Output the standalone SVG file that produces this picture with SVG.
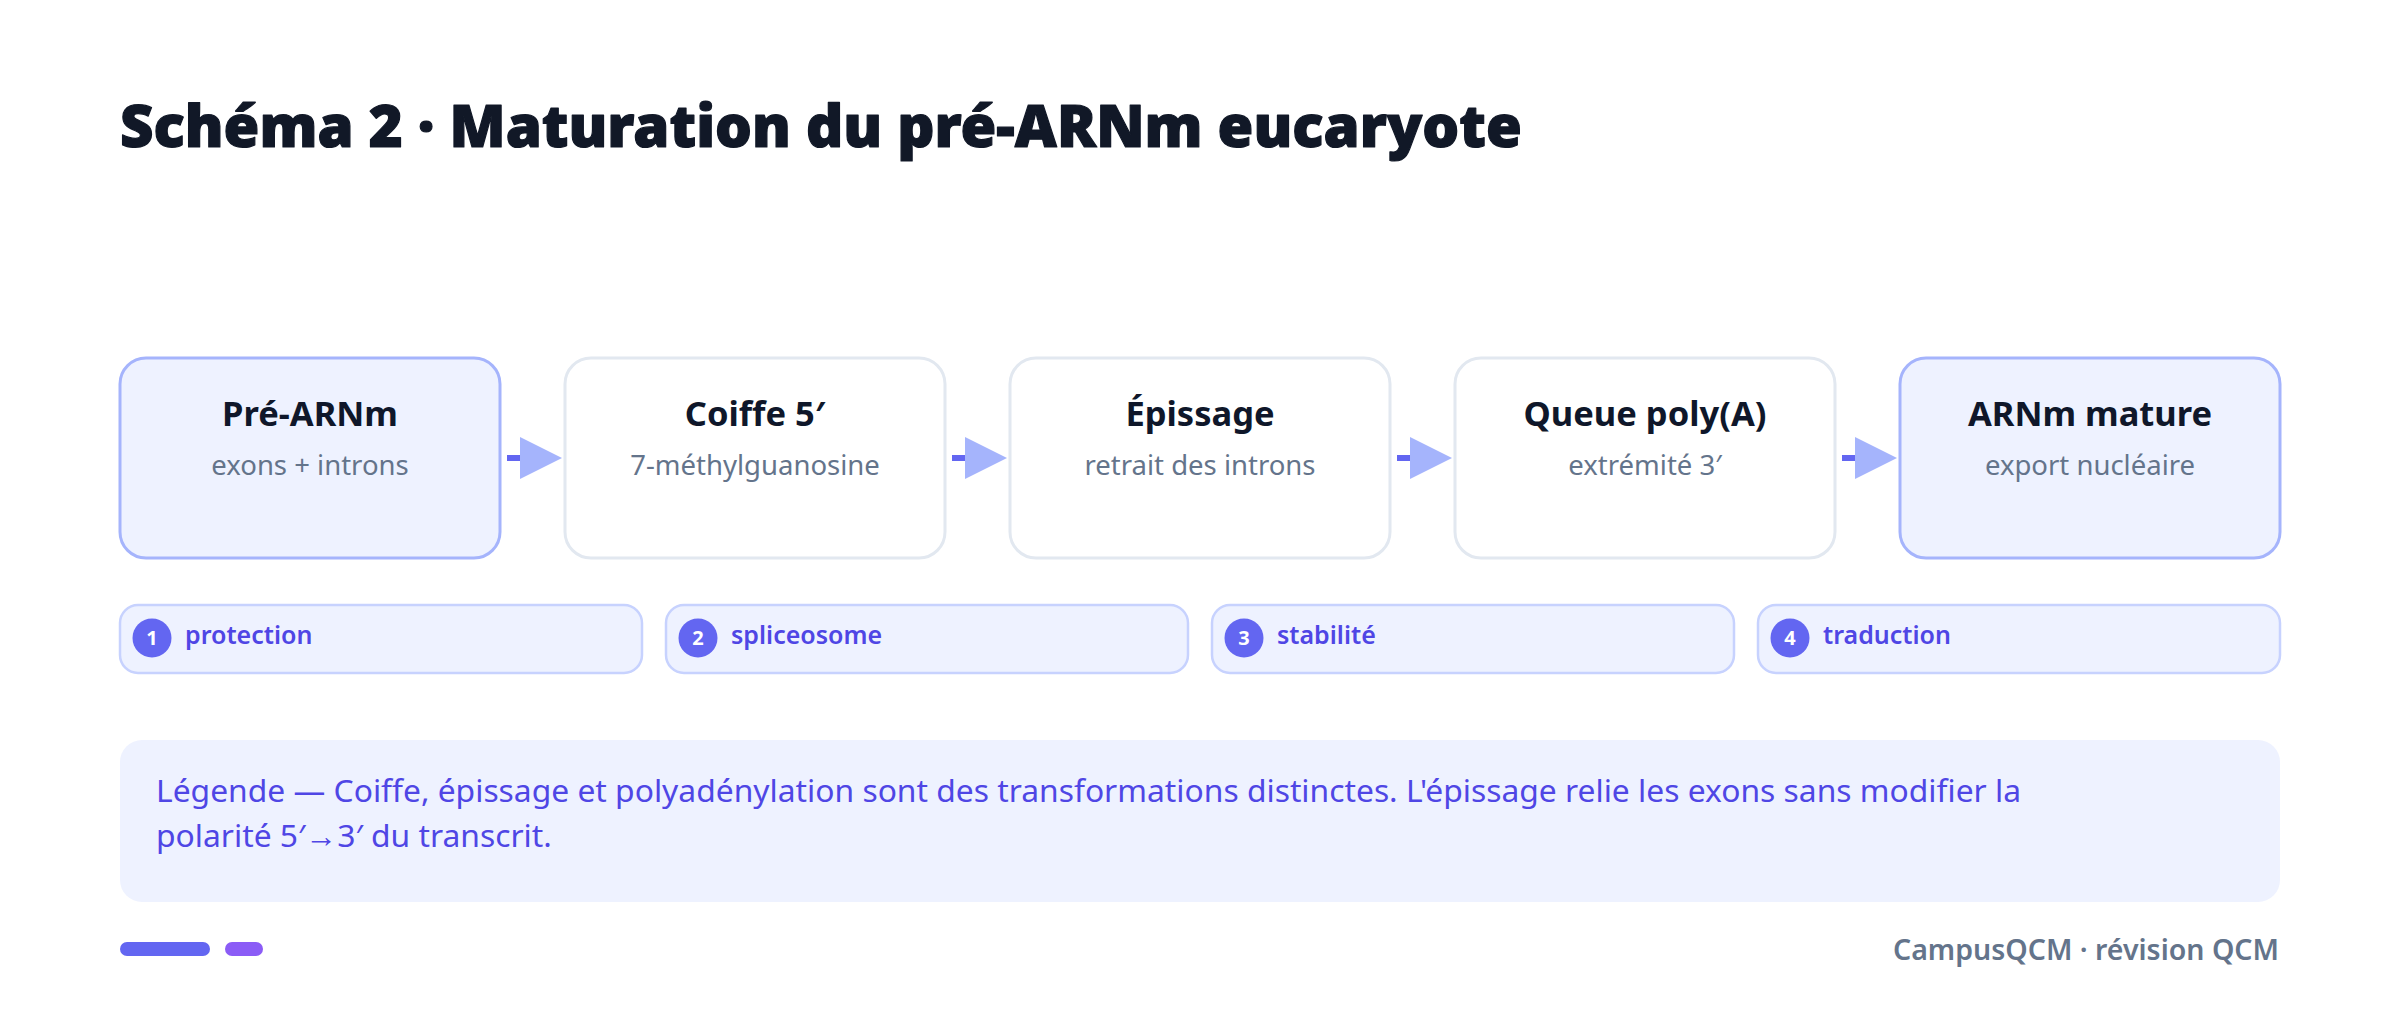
<svg xmlns="http://www.w3.org/2000/svg" width="2400" height="1010" viewBox="0 0 2400 1010">
<defs>
<style>
.title{font-family:"Noto Sans","Open Sans",sans-serif;font-weight:900;font-size:58px;fill:#111827;stroke:#111827;stroke-width:1.2px;stroke-linejoin:round}
.nt{font-family:"Noto Sans","Open Sans",sans-serif;font-weight:700;font-size:34.5px;fill:#0f172a;text-anchor:middle}
.ns{font-family:"Noto Sans","Open Sans",sans-serif;font-weight:400;font-size:27.5px;fill:#64748b;text-anchor:middle}
.hl{fill:#eef2ff;stroke:#a5b4fc;stroke-width:3}
.pl{fill:#ffffff;stroke:#e2e8f0;stroke-width:3}
.pill{fill:#eef2ff;stroke:#c7d2fe;stroke-width:2.5}
.dot{fill:#6366f1}
.num{font-family:"Noto Sans","Open Sans",sans-serif;font-weight:700;font-size:20px;fill:#ffffff;text-anchor:middle}
.pt{font-family:"Noto Sans","Open Sans",sans-serif;font-weight:600;font-size:25px;fill:#4f46e5}
.lg{font-family:"Noto Sans","Open Sans",sans-serif;font-weight:400;font-size:31.8px;fill:#4f46e5}
.ft{font-family:"Noto Sans","Open Sans",sans-serif;font-weight:600;font-size:28.5px;fill:#64748b;text-anchor:end}
.cl{stroke:#6366f1;stroke-width:6;fill:none}
</style>
<marker id="ah" markerUnits="userSpaceOnUse" markerWidth="44" markerHeight="44" refX="0" refY="21" orient="auto">
<polygon points="0,0 42,21 0,42" fill="#a5b4fc"/>
</marker>
</defs>
<rect width="2400" height="1010" fill="#ffffff"/>
<text class="title" x="120" y="147">Schéma 2 · Maturation du pré-ARNm eucaryote</text>

<g id="connectors">
<line class="cl" x1="507" y1="458" x2="520" y2="458" marker-end="url(#ah)"/>
<line class="cl" x1="952" y1="458" x2="965" y2="458" marker-end="url(#ah)"/>
<line class="cl" x1="1397" y1="458" x2="1410" y2="458" marker-end="url(#ah)"/>
<line class="cl" x1="1842" y1="458" x2="1855" y2="458" marker-end="url(#ah)"/>
</g>

<g id="node1">
<rect class="hl" x="120" y="358" width="380" height="200" rx="26"/>
<text class="nt" x="310" y="426">Pré-ARNm</text>
<text class="ns" x="310" y="475">exons + introns</text>
</g>
<g id="node2">
<rect class="pl" x="565" y="358" width="380" height="200" rx="26"/>
<text class="nt" x="755" y="426">Coiffe 5′</text>
<text class="ns" x="755" y="475">7-méthylguanosine</text>
</g>
<g id="node3">
<rect class="pl" x="1010" y="358" width="380" height="200" rx="26"/>
<text class="nt" x="1200" y="426">Épissage</text>
<text class="ns" x="1200" y="475">retrait des introns</text>
</g>
<g id="node4">
<rect class="pl" x="1455" y="358" width="380" height="200" rx="26"/>
<text class="nt" x="1645" y="426">Queue poly(A)</text>
<text class="ns" x="1645" y="475">extrémité 3′</text>
</g>
<g id="node5">
<rect class="hl" x="1900" y="358" width="380" height="200" rx="26"/>
<text class="nt" x="2090" y="426">ARNm mature</text>
<text class="ns" x="2090" y="475">export nucléaire</text>
</g>

<g id="pill1">
<rect class="pill" x="120" y="605" width="522" height="68" rx="18"/>
<circle class="dot" cx="152" cy="638" r="19.5"/>
<text class="num" x="152" y="645">1</text>
<text class="pt" x="185" y="644">protection</text>
</g>
<g id="pill2">
<rect class="pill" x="666" y="605" width="522" height="68" rx="18"/>
<circle class="dot" cx="698" cy="638" r="19.5"/>
<text class="num" x="698" y="645">2</text>
<text class="pt" x="731" y="644">spliceosome</text>
</g>
<g id="pill3">
<rect class="pill" x="1212" y="605" width="522" height="68" rx="18"/>
<circle class="dot" cx="1244" cy="638" r="19.5"/>
<text class="num" x="1244" y="645">3</text>
<text class="pt" x="1277" y="644">stabilité</text>
</g>
<g id="pill4">
<rect class="pill" x="1758" y="605" width="522" height="68" rx="18"/>
<circle class="dot" cx="1790" cy="638" r="19.5"/>
<text class="num" x="1790" y="645">4</text>
<text class="pt" x="1823" y="644">traduction</text>
</g>

<g id="legend">
<rect x="120" y="740" width="2160" height="162" rx="22" fill="#eef2ff"/>
<text class="lg" x="156" y="802">Légende — Coiffe, épissage et polyadénylation sont des transformations distinctes. L'épissage relie les exons sans modifier la</text>
<text class="lg" x="156" y="847">polarité 5′→3′ du transcrit.</text>
</g>

<g id="footer">
<rect x="120" y="942" width="90" height="14" rx="7" fill="#6366f1"/>
<rect x="225" y="942" width="38" height="14" rx="7" fill="#8b5cf6"/>
<text class="ft" x="2279" y="960">CampusQCM · révision QCM</text>
</g>
</svg>
